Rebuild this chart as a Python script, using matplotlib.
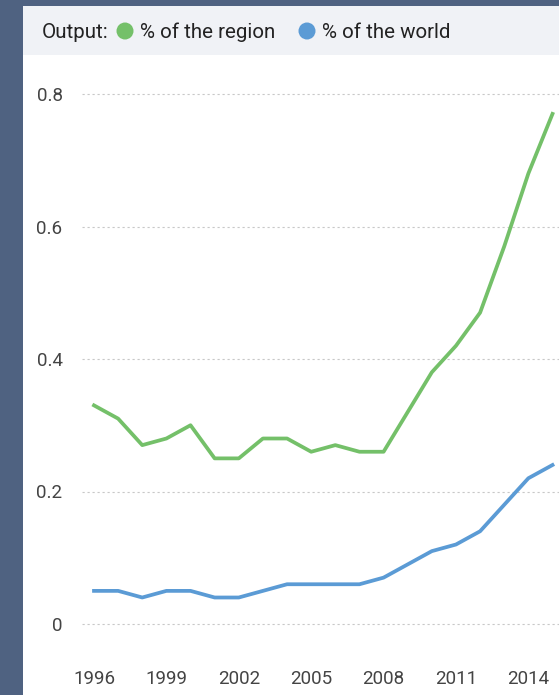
import matplotlib
matplotlib.use("Agg")
import matplotlib.pyplot as plt
from matplotlib.patches import Rectangle, Ellipse

years = list(range(1996, 2016))
region = [0.33, 0.31, 0.27, 0.28, 0.30, 0.25, 0.25, 0.28, 0.28, 0.26,
          0.27, 0.26, 0.26, 0.32, 0.38, 0.42, 0.47, 0.57, 0.68, 0.77]
world = [0.05, 0.05, 0.04, 0.05, 0.05, 0.04, 0.04, 0.05, 0.06, 0.06,
         0.06, 0.06, 0.07, 0.09, 0.11, 0.12, 0.14, 0.18, 0.22, 0.24]
xticks = [1996, 1999, 2002, 2005, 2008, 2011, 2014]
yticks = [0, 0.2, 0.4, 0.6, 0.8]
ytick_labels = ["0", "0.2", "0.4", "0.6", "0.8"]
legend_labels = ["% of the region", "% of the world"]

GREEN = "#74c069"
BLUE = "#5b9bd5"
plt.rcParams['font.family'] = ['Roboto', 'DejaVu Sans']

W, H = 559, 695
fig = plt.figure(figsize=(W / 100, H / 100), dpi=100)
fig.patch.set_facecolor("#4f6281")

def fx(px):
    return px / W

def fy(py):
    return 1 - py / H

# white panel
fig.patches.append(Rectangle((fx(23), 0), 1 - fx(23), fy(6), transform=fig.transFigure,
                             facecolor="white", edgecolor="none", zorder=-2))
# legend band
fig.patches.append(Rectangle((fx(23), fy(55)), 1 - fx(23), fy(6) - fy(55), transform=fig.transFigure,
                             facecolor="#f0f2f6", edgecolor="none", zorder=-1))

# legend
LFS = 14.8
fig.text(fx(42), fy(32), "Output:", fontsize=LFS, color="#222222", va="center", ha="left")
for cx, tx, col, lab in [(125, 140, GREEN, legend_labels[0]), (307, 322, BLUE, legend_labels[1])]:
    fig.add_artist(Ellipse((fx(cx), fy(31)), 17 / W, 17 / H,
                           transform=fig.transFigure, facecolor=col,
                           edgecolor="none", zorder=3))
    fig.text(fx(tx), fy(32), lab, fontsize=LFS, color="#222222", va="center", ha="left")

# axes
left_px, right_px, top_px, bottom_px = 82, 559, 70, 645
ax = fig.add_axes([fx(left_px), fy(bottom_px), fx(right_px) - fx(left_px), fy(top_px) - fy(bottom_px)])
ax.set_zorder(5)
ax.set_facecolor("none")
px_per_year = (552.5 - 94) / 19
ax.set_xlim(1996 - (94 - left_px) / px_per_year, 2015 + (right_px - 552.5) / px_per_year)
ppu = (624 - 94) / 0.8
ax.set_ylim(-(bottom_px - 624) / ppu, 0.8 + (94 - top_px) / ppu)

ax.plot(years, region, color=GREEN, lw=2.7, solid_joinstyle="round", clip_on=False, zorder=3)
ax.plot(years, world, color=BLUE, lw=2.7, solid_joinstyle="round", clip_on=False, zorder=3)

for s in ax.spines.values():
    s.set_visible(False)
ax.set_yticks(yticks)
ax.set_yticklabels(ytick_labels)
ax.set_xticks(xticks)
ax.set_xticklabels([str(x) for x in xticks])
ax.tick_params(axis="both", length=0, labelsize=13.5, labelcolor="#444444")
ax.tick_params(axis="y", pad=14)
ax.tick_params(axis="x", pad=18)
ax.grid(axis="y", color="#c8c8c8", linestyle=(0, (2, 2.5)), linewidth=0.8)
ax.grid(axis="x", visible=False)

fig.savefig("out.png", dpi=100, facecolor=fig.get_facecolor())
